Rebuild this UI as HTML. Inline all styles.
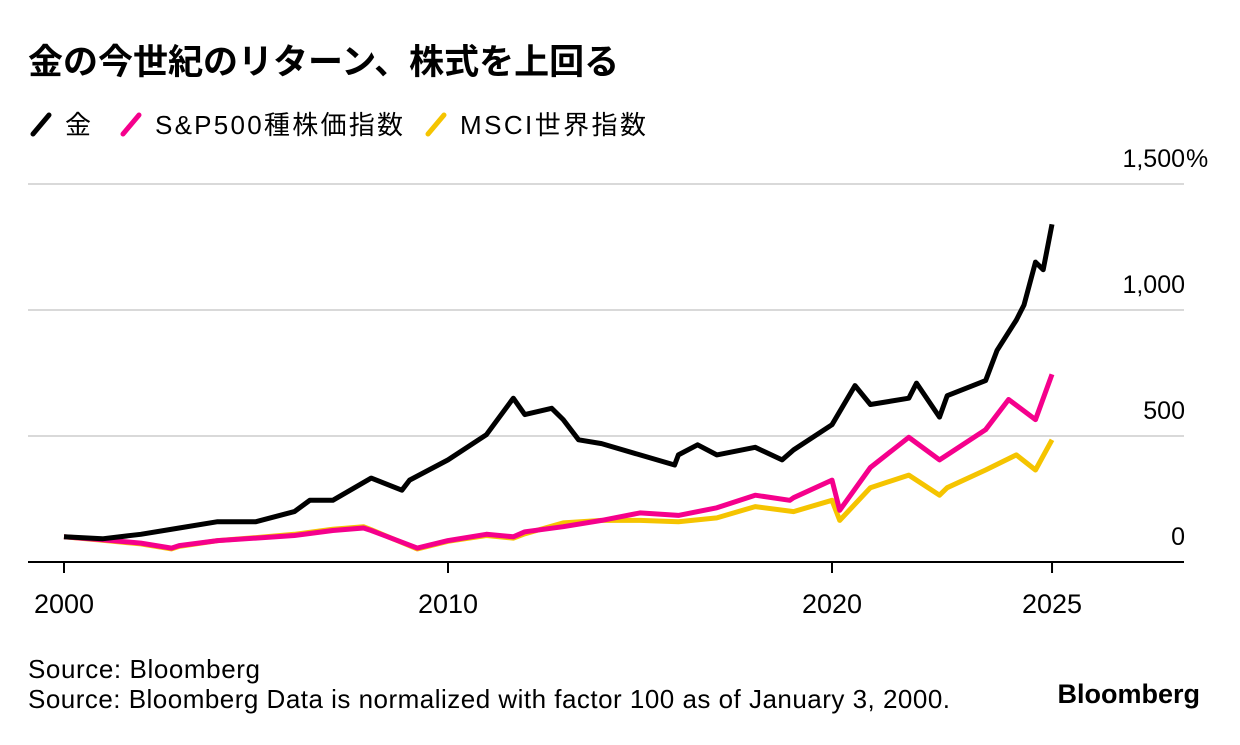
<!DOCTYPE html>
<html><head><meta charset="utf-8"><style>
body{margin:0;background:#fff;width:1240px;height:740px;overflow:hidden;font-family:"Liberation Sans","Noto Sans CJK JP",sans-serif;}
</style></head><body>
<svg width="1240" height="740" xmlns="http://www.w3.org/2000/svg" font-family="Liberation Sans, Noto Sans CJK JP, sans-serif">
<text x="28" y="74" font-size="35" font-weight="bold" fill="#000">金の今世紀のリターン、株式を上回る</text>
<g id="legend"></g>
<g id="grid"></g>
<g id="series"></g>
<g id="xaxis"></g>
<text x="28" y="678" font-size="26" fill="#000" textLength="232">Source: Bloomberg</text>
<text x="28" y="708" font-size="26" fill="#000" textLength="922">Source: Bloomberg Data is normalized with factor 100 as of January 3, 2000.</text>
<text x="1200" y="703" font-size="27" font-weight="bold" text-anchor="end" fill="#000">Bloomberg</text>
</svg>
<script>
const seriesNames=["金","S&P500種株価指数","MSCI世界指数"];
const goldYears=[2000,2001,2002,2003,2004,2005,2006,2006.4,2007,2008,2008.8,2009,2010,2011,2011.7,2012,2012.7,2013,2013.4,2014,2015,2015.9,2016,2016.5,2017,2018,2018.7,2019,2020,2020.6,2021,2022,2022.2,2022.8,2023,2024,2024.3,2024.8,2025,2025.3,2025.5,2025.73];
const goldValues=[100,92,110,135,160,160,200,245,245,333,285,325,405,505,650,585,610,565,485,470,425,385,425,465,425,455,405,445,545,700,625,650,710,575,660,720,840,960,1020,1190,1160,1340];
const spYears=[2000,2001,2002,2002.8,2003,2004,2005,2006,2007,2007.8,2008,2009.2,2010,2011,2011.7,2012,2013,2014,2015,2016,2017,2018,2018.9,2019,2020,2020.2,2021,2022,2022.8,2023,2024,2024.6,2025.3,2025.73];
const spValues=[100,88,75,55,65,85,95,105,125,135,125,55,85,110,100,120,140,165,195,185,215,265,245,255,325,205,375,495,405,425,525,645,565,745];
const msciYears=[2000,2001,2002,2002.8,2003,2004,2005,2006,2007,2007.8,2008,2009.2,2010,2011,2011.7,2012,2013,2014,2015,2016,2017,2018,2019,2020,2020.2,2021,2022,2022.8,2023,2024,2024.8,2025.3,2025.73];
const msciValues=[100,86,72,52,62,85,97,110,130,140,128,52,82,105,95,112,155,165,165,160,175,220,200,245,165,295,345,265,295,365,425,365,485];
const yTicks=[0,500,1000,1500];
const yTickLabels=["0","500","1,000","1,500"];
const xTicks=[2000,2010,2020,2025.73];
const xTickLabels=["2000","2010","2020","2025"];
const colors=["#000000","#f5008c","#f5c400"];
const NS="http://www.w3.org/2000/svg";
const xs=y=>64+(y-2000)*38.4;
const ys=v=>562-v*126/500;
function mk(tag,attrs,parent){const e=document.createElementNS(NS,tag);for(const k in attrs)e.setAttribute(k,attrs[k]);document.getElementById(parent).appendChild(e);return e;}
const lx=[30,120,425], tl=[28,248,186];
seriesNames.forEach((n,i)=>{
 const ln=mk("line",{x1:lx[i]+3,y1:134,x2:lx[i]+19,y2:115,stroke:colors[i],"stroke-width":5,"stroke-linecap":"round"},"legend");
 
 
 const t=mk("text",{x:lx[i]+35,y:134,"font-size":26,fill:"#000",textLength:tl[i]},"legend");
 t.textContent=n;
 
 
});
yTicks.forEach((v,i)=>{
 if(v>0){const g=mk("line",{x1:28,x2:1184,y1:ys(v),y2:ys(v),stroke:"#d9d9d9","stroke-width":2},"grid");
 
 }
 const t=mk("text",{x:1185,y:ys(v)-17,"font-size":25,"text-anchor":"end",fill:"#000"},"grid");
 t.textContent=yTickLabels[i];
 
 
 if(v===1500){const p=mk("text",{x:1186,y:ys(v)-17,"font-size":25,fill:"#000"},"grid");p.textContent="%";
 
 }
});
[[goldYears,goldValues],[spYears,spValues],[msciYears,msciValues]].map((d,i)=>[d,i]).reverse().forEach(([d,i])=>{
 const p=d[0].map((y,j)=>(j?"L":"M")+xs(y).toFixed(1)+","+ys(d[1][j]).toFixed(1)).join("");
 const path=mk("path",{d:p,fill:"none",stroke:colors[i],"stroke-width":5,"stroke-linejoin":"round"},"series");
 
 
});
const ax=mk("line",{x1:28,x2:1184,y1:562,y2:562,stroke:"#000","stroke-width":2},"xaxis");


xTicks.forEach((y,i)=>{
 const tk=mk("line",{x1:xs(y),x2:xs(y),y1:562,y2:573,stroke:"#000","stroke-width":2},"xaxis");
 
 
 const t=mk("text",{x:xs(y),y:613,"font-size":27,"text-anchor":"middle",fill:"#000"},"xaxis");
 t.textContent=xTickLabels[i];
 
 
});
</script>
</body></html>
